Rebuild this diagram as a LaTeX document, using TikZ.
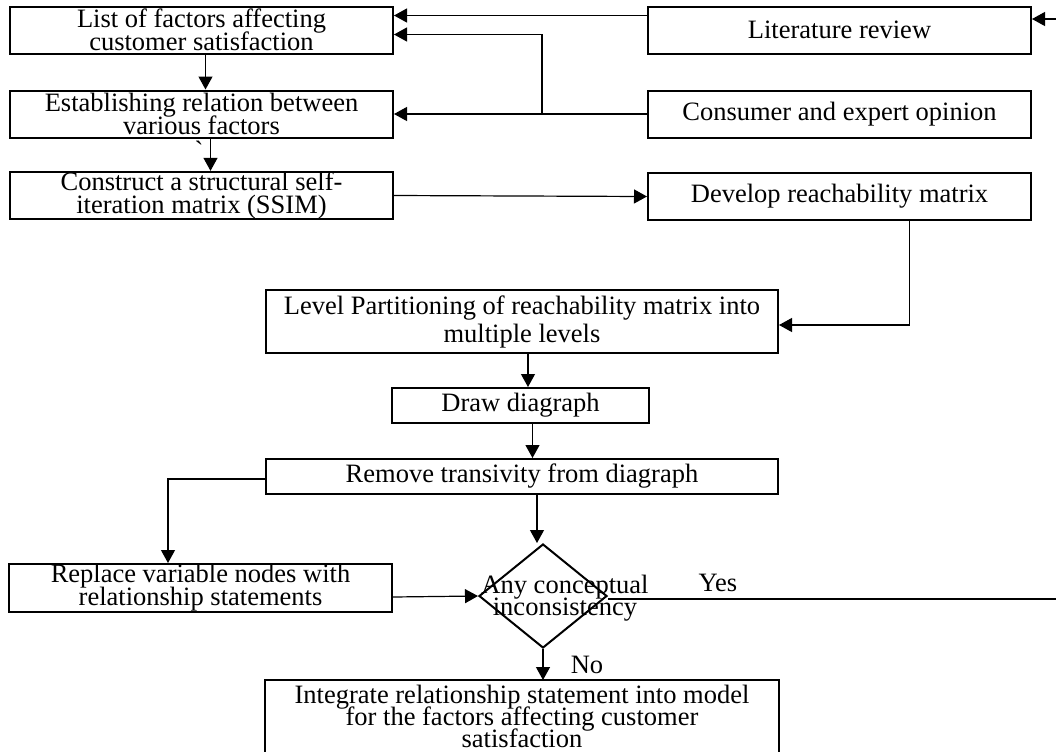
\documentclass[tikz,border=0pt]{standalone}
\usepackage{fontspec}
\setmainfont{Liberation Serif}
\usetikzlibrary{arrows.meta,shapes.geometric}

\newcommand\boxfont[1]{\fontsize{13.25}{#1}\selectfont\lineskiplimit=-20pt\relax}

\tikzset{
  stepbox/.style={draw, line width=1pt, inner sep=0pt, align=center,
    font=\boxfont{11.5}, minimum width=191.5pt, minimum height=23.5pt},
  widebox/.style={stepbox, minimum width=256pt},
  decision/.style={draw, diamond, line width=1pt, inner sep=0pt,
    minimum width=64pt, minimum height=52pt},
  plain/.style={inner sep=0pt, align=center, font=\boxfont{11.25}},
  link/.style={line width=0.6pt, -{Triangle[length=6.5pt,width=7pt]}},
  wire/.style={line width=0.6pt}
}

\begin{document}
\begin{tikzpicture}[x=0.5pt,y=-0.5pt]
\useasboundingbox (0,0) rectangle (1056,751);

% left column
\node[stepbox] (list) at (201.5,30) {List of factors affecting\\customer satisfaction};
\node[stepbox] (estab) at (201.5,114) {Establishing relation between\\various factors};
\node[stepbox] (ssim) at (201.5,195.5) {Construct a structural self-\\iteration matrix (SSIM)};
\node[plain] (tick) at (199,150) {\textasciigrave};

% right column
\node[stepbox] (lit) at (839.5,30) {Literature review};
\node[stepbox] (cons) at (839.5,114) {Consumer and expert opinion};
\node[stepbox] (reach) at (839.5,196.5) {Develop reachability matrix};

% middle
\node[widebox, minimum height=31.5pt, font=\boxfont{14}] (level) at (522,321.5)
  {Level Partitioning of reachability matrix into\\multiple levels};
\node[stepbox, minimum width=128.5pt, minimum height=17.5pt] (diag) at (520.5,405.5) {Draw diagraph};
\node[widebox, minimum height=17.5pt] (remove) at (522,476.5) {Remove transivity from diagraph};
\node[stepbox, minimum height=24pt] (replace) at (200.5,588) {Replace variable nodes with\\relationship statements};
\node[decision] (dec) at (543,596) {};
\node[plain] (dectxt) at (565,598) {Any conceptual\\inconsistency};
\node[widebox, draw=none, minimum height=35pt, font=\boxfont{11}] (integ) at (522,716)
  {Integrate relationship statement into model\\for the factors affecting customer\\satisfaction};
\draw[line width=1pt] (integ.south west) |- (integ.north east) -- (integ.south east);

\node[plain] (yes) at (718,583) {Yes};
\node[plain] (no) at (587,665) {No};
\coordinate (litin) at (1056,19);
\coordinate (yesend) at (1056,599);
\coordinate (split) at (542,114);

\draw[link] (litin) -- (lit.east |- litin);
\draw[link] ([yshift=-5pt]lit.north west) -- ([yshift=-5pt]list.north east);
\draw[link] (cons.west) -- (estab.east);
\draw[link] (split) |- ([yshift=-14.5pt]list.north east);
\draw[link] ([xshift=2pt]list.south) -- ([xshift=2pt]estab.north);
\draw[link] ([xshift=4.5pt]estab.south) -- ([xshift=4.5pt]ssim.north);
\draw[link] (ssim.east) -- (reach.west);
\draw[link] ([xshift=35pt]reach.south) |- ([yshift=-1.75pt]level.east);
\draw[link] ([xshift=3pt]level.south) -- ([xshift=3pt]level.south |- diag.north);
\draw[link] ([xshift=6pt]diag.south) -- ([xshift=6pt]diag.south |- remove.north);
\draw[link] ([xshift=7.5pt]remove.south) -- ([xshift=7.5pt]remove.south |- dec.north);
\draw[link] ([yshift=-1.25pt]remove.west) -| ([xshift=-16.25pt]replace.north);
\draw[link] ([yshift=-4.5pt]replace.east) -- (dec.west);
\draw[wire] (dec.east |- yesend) -- (yesend);
\draw[link] (dec.south) -- (dec.south |- integ.north);
\end{tikzpicture}
\end{document}
